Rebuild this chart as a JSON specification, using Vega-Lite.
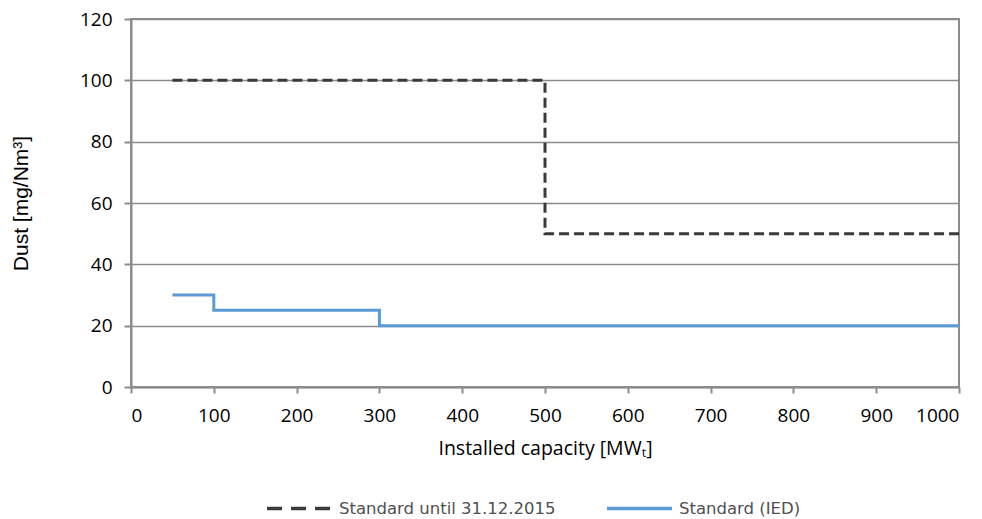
{
  "$schema": "https://vega.github.io/schema/vega-lite/v6.json",
  "width": 828,
  "height": 368,
  "autosize": {"type": "none"},
  "padding": {"left": 131, "top": 19, "right": 23, "bottom": 132},
  "background": "white",
  "data": {
    "values": [
      {"capacity": 50, "dust": 100, "series": "Standard until 31.12.2015"},
      {"capacity": 500, "dust": 50, "series": "Standard until 31.12.2015"},
      {"capacity": 1000, "dust": 50, "series": "Standard until 31.12.2015"},
      {"capacity": 50, "dust": 30, "series": "Standard (IED)"},
      {"capacity": 100, "dust": 25, "series": "Standard (IED)"},
      {"capacity": 300, "dust": 20, "series": "Standard (IED)"},
      {"capacity": 1000, "dust": 20, "series": "Standard (IED)"}
    ]
  },
  "encoding": {
    "x": {
      "field": "capacity", "type": "quantitative",
      "scale": {"domain": [0, 1000], "nice": false},
      "axis": {"values": [0,100,200,300,400,500,600,700,800,900,1000], "format": "d",
               "title": "Installed capacity [MWₜ]", "grid": false, "tickSize": 6,
               "labelPadding": 13, "titlePadding": 14, "titleFontSize": 19.5}
    },
    "y": {
      "field": "dust", "type": "quantitative",
      "scale": {"domain": [0, 120], "nice": false},
      "axis": {"values": [0,20,40,60,80,100,120], "title": "Dust [mg/Nm³]", "grid": true,
               "tickSize": 7, "labelPadding": 12,
               "titleFont": "Liberation Sans", "titleFontSize": 21, "titlePadding": 48}
    },
    "color": {
      "field": "series", "type": "nominal",
      "scale": {"domain": ["Standard until 31.12.2015", "Standard (IED)"], "range": ["#3a3a3a", "#5b9bd5"]},
      "legend": {
        "orient": "none", "legendX": 134, "legendY": 455, "direction": "horizontal",
        "title": null, "symbolType": "stroke", "symbolSize": 4225, "symbolStrokeWidth": 3.5,
        "labelFont": "DejaVu Sans", "labelFontSize": 16.5, "labelColor": "#505050", "labelLimit": 400,
        "columnPadding": 44, "labelOffset": 5,
        "encode": {
          "symbols": {
            "update": {
              "strokeDash": [
                {"test": "datum.value === 'Standard until 31.12.2015'", "value": [15, 9]},
                {"value": [1, 0]}
              ]
            }
          }
        }
      }
    }
  },
  "layer": [
    {
      "transform": [{"filter": "datum.series === 'Standard until 31.12.2015'"}],
      "mark": {"type": "line", "interpolate": "step-after", "strokeWidth": 3, "strokeCap": "butt", "strokeDash": [10, 5]}
    },
    {
      "transform": [{"filter": "datum.series === 'Standard (IED)'"}],
      "mark": {"type": "line", "interpolate": "step-after", "strokeWidth": 3, "strokeCap": "butt"}
    }
  ],
  "config": {
    "view": {"stroke": "#8c8c8c", "strokeWidth": 2},
    "axis": {
      "domainColor": "#8c8c8c", "domainWidth": 2,
      "tickColor": "#8c8c8c", "tickWidth": 2,
      "gridColor": "#8c8c8c", "gridWidth": 1.5, "gridOpacity": 1,
      "labelFont": "Open Sans", "labelFontSize": 19, "labelColor": "#000000",
      "titleFont": "Open Sans", "titleFontWeight": "normal", "titleColor": "#000000"
    }
  }
}
